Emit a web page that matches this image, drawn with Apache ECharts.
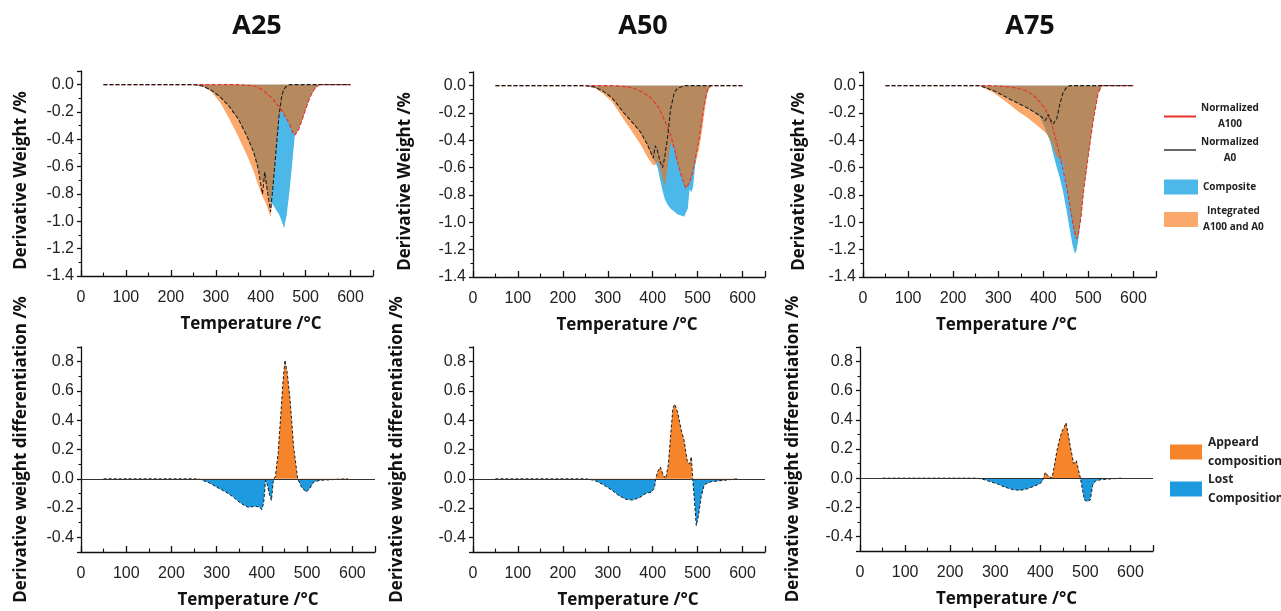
<!DOCTYPE html>
<html>
<head>
<meta charset="utf-8">
<title>DTG comparison A25 / A50 / A75</title>
<script src="https://cdn.jsdelivr.net/npm/echarts@6/dist/echarts.min.js"></script>
<style>
  html, body { margin: 0; padding: 0; background: #fff; }
  #main { width: 1281px; height: 611px; }
</style>
</head>
<body>
<div id="main"></div>
<script>
// ---- top row: derivative weight (%/°C) vs temperature ----
var a25Temp       = [50, 150, 250, 270, 290, 310, 330, 350, 370, 385, 395, 404, 409, 415, 422, 428, 435, 441, 447, 452, 458, 464, 470, 476, 484, 492, 500, 510, 520, 530, 600];
var a25A100       = [0, 0, 0, 0, 0, 0, 0, 0, -0.005, -0.01, -0.02, -0.04, -0.05, -0.07, -0.09, -0.11, -0.14, -0.16, -0.19, -0.22, -0.25, -0.29, -0.34, -0.37, -0.33, -0.26, -0.18, -0.09, -0.03, 0, 0];
var a25A0         = [0, 0, 0, -0.01, -0.04, -0.09, -0.16, -0.25, -0.38, -0.50, -0.62, -0.80, -0.64, -0.78, -0.93, -0.72, -0.45, -0.22, -0.08, -0.03, -0.01, 0, 0, 0, 0, 0, 0, 0, 0, 0, 0];
var a25Composite  = [0, 0, 0, -0.01, -0.04, -0.09, -0.16, -0.25, -0.38, -0.50, -0.62, -0.72, -0.70, -0.78, -0.86, -0.88, -0.92, -0.95, -1.0, -1.05, -0.95, -0.78, -0.58, -0.37, -0.33, -0.26, -0.18, -0.09, -0.03, 0, 0];
var a25Integrated = [0, 0, 0, -0.01, -0.05, -0.13, -0.25, -0.38, -0.52, -0.64, -0.74, -0.82, -0.85, -0.90, -0.97, -0.72, -0.45, -0.22, -0.19, -0.22, -0.25, -0.29, -0.34, -0.37, -0.33, -0.26, -0.18, -0.09, -0.03, 0, 0];
var a25Overlap    = [0, 0, 0, -0.01, -0.04, -0.09, -0.16, -0.25, -0.38, -0.50, -0.62, -0.72, -0.70, -0.78, -0.86, -0.72, -0.45, -0.22, -0.19, -0.22, -0.25, -0.29, -0.34, -0.37, -0.33, -0.26, -0.18, -0.09, -0.03, 0, 0];

var a50Temp       = [50, 150, 250, 270, 290, 310, 336, 355, 373, 388, 396, 401, 406, 411, 416, 422, 427, 433, 440, 448, 455, 463, 470, 474, 478, 482, 486, 490, 497, 504, 511, 516, 522, 530, 600];
var a50A100       = [0, 0, 0, 0, 0, 0, -0.005, -0.015, -0.04, -0.07, -0.09, -0.11, -0.13, -0.15, -0.18, -0.22, -0.26, -0.31, -0.36, -0.46, -0.56, -0.65, -0.72, -0.75, -0.74, -0.71, -0.67, -0.61, -0.5, -0.38, -0.22, -0.12, -0.03, 0, 0];
var a50A0         = [0, 0, 0, -0.01, -0.04, -0.09, -0.2, -0.27, -0.34, -0.43, -0.49, -0.53, -0.44, -0.48, -0.55, -0.6, -0.52, -0.38, -0.17, -0.05, -0.02, -0.01, 0, 0, 0, 0, 0, 0, 0, 0, 0, 0, 0, 0, 0];
var a50Composite  = [0, 0, 0, -0.01, -0.04, -0.09, -0.2, -0.27, -0.34, -0.43, -0.49, -0.53, -0.56, -0.6, -0.68, -0.77, -0.83, -0.87, -0.9, -0.92, -0.94, -0.95, -0.96, -0.95, -0.9, -0.76, -0.78, -0.74, -0.5, -0.38, -0.22, -0.12, -0.03, 0, 0];
var a50Integrated = [0, 0, 0, -0.015, -0.06, -0.12, -0.25, -0.34, -0.43, -0.52, -0.56, -0.58, -0.58, -0.56, -0.6, -0.68, -0.74, -0.6, -0.42, -0.46, -0.56, -0.65, -0.72, -0.75, -0.74, -0.71, -0.67, -0.63, -0.55, -0.45, -0.3, -0.17, -0.05, 0, 0];
var a50Overlap    = [0, 0, 0, -0.01, -0.04, -0.09, -0.2, -0.27, -0.34, -0.43, -0.49, -0.53, -0.56, -0.56, -0.6, -0.68, -0.74, -0.6, -0.42, -0.46, -0.56, -0.65, -0.72, -0.75, -0.74, -0.71, -0.67, -0.61, -0.5, -0.38, -0.22, -0.12, -0.03, 0, 0];

var a75Temp       = [50, 150, 259, 289, 310, 326, 345, 363, 378, 393, 400, 404, 407, 411, 416, 422, 426, 430, 437, 444, 452, 459, 465, 470, 474, 478, 484, 489, 497, 504, 511, 516, 522, 530, 600];
var a75A100       = [0, 0, 0, 0, -0.005, -0.01, -0.02, -0.04, -0.07, -0.12, -0.15, -0.17, -0.19, -0.22, -0.26, -0.32, -0.37, -0.42, -0.52, -0.62, -0.74, -0.88, -1.0, -1.08, -1.12, -1.08, -0.95, -0.78, -0.58, -0.41, -0.25, -0.16, -0.05, 0, 0];
var a75A0         = [0, 0, 0, -0.036, -0.07, -0.1, -0.13, -0.16, -0.19, -0.22, -0.24, -0.255, -0.24, -0.21, -0.25, -0.28, -0.29, -0.24, -0.13, -0.05, -0.01, 0, 0, 0, 0, 0, 0, 0, 0, 0, 0, 0, 0, 0, 0];
var a75Composite  = [0, 0, 0, -0.036, -0.07, -0.1, -0.13, -0.16, -0.19, -0.23, -0.28, -0.31, -0.34, -0.37, -0.42, -0.5, -0.55, -0.6, -0.68, -0.78, -0.92, -1.06, -1.17, -1.23, -1.2, -1.12, -0.96, -0.78, -0.58, -0.41, -0.25, -0.16, -0.05, 0, 0];
var a75Integrated = [0, 0, 0, -0.05, -0.1, -0.14, -0.19, -0.23, -0.27, -0.31, -0.33, -0.34, -0.35, -0.37, -0.4, -0.45, -0.49, -0.52, -0.535, -0.56, -0.72, -0.86, -0.99, -1.08, -1.12, -1.08, -0.95, -0.78, -0.58, -0.41, -0.25, -0.16, -0.05, 0, 0];
var a75Overlap    = [0, 0, 0, -0.036, -0.07, -0.1, -0.13, -0.16, -0.19, -0.23, -0.28, -0.31, -0.34, -0.37, -0.4, -0.45, -0.49, -0.52, -0.535, -0.56, -0.72, -0.86, -0.99, -1.08, -1.12, -1.08, -0.95, -0.78, -0.58, -0.41, -0.25, -0.16, -0.05, 0, 0];

// ---- bottom row: composite minus integrated ----
var diffA25Temp = [50, 250, 265, 285, 300, 320, 337, 350, 360, 370, 381, 392, 400, 404, 408, 412, 416, 421, 425, 430, 436, 442, 447, 451, 456, 462, 470, 479, 488, 498, 505, 515, 530, 590];
var diffA25     = [0, 0, -0.005, -0.03, -0.057, -0.09, -0.125, -0.16, -0.18, -0.195, -0.19, -0.19, -0.21, -0.16, -0.01, -0.04, -0.1, -0.148, -0.02, 0.02, 0.18, 0.45, 0.68, 0.81, 0.72, 0.55, 0.22, 0, -0.06, -0.09, -0.07, -0.02, -0.01, 0];
var diffA50Temp = [50, 250, 270, 290, 310, 325, 340, 355, 370, 385, 398, 404, 407, 411, 417, 423, 429, 435, 440, 445, 449, 456, 463, 470, 477, 482, 486, 489, 493, 497, 502, 508, 515, 530, 560, 590];
var diffA50     = [0, 0, -0.01, -0.04, -0.08, -0.115, -0.14, -0.145, -0.13, -0.1, -0.09, -0.06, 0, 0.05, 0.08, 0.03, 0, 0.1, 0.3, 0.48, 0.51, 0.45, 0.34, 0.26, 0.12, 0.1, 0.15, 0, -0.15, -0.32, -0.25, -0.12, -0.04, -0.02, -0.01, 0];
var diffA75Temp = [50, 260, 275, 290, 305, 320, 340, 356, 370, 385, 398, 404, 407, 411, 416, 421, 426, 432, 437, 443, 448, 453, 457, 462, 467, 474, 480, 485, 489, 493, 498, 504, 511, 516, 522, 535, 580];
var diffA75     = [0, 0, -0.01, -0.025, -0.04, -0.06, -0.08, -0.083, -0.075, -0.057, -0.04, -0.025, 0, 0.04, 0.02, 0.01, 0, 0.1, 0.19, 0.27, 0.32, 0.35, 0.38, 0.3, 0.21, 0.1, 0.12, 0.05, 0, -0.07, -0.15, -0.16, -0.15, -0.05, -0.02, -0.01, 0];

var sampleNames = ['A25', 'A50', 'A75'];

var BLUE = '#4cb8ea', ORANGE = '#fba86c', BROWN = '#b7895f', RED = '#e5322b', DARK = '#1e1e1e';
var APPEAR = '#f5842b', LOST = '#1e9be0';
var NAME_FONT = 'Open Sans';

function pairs(xs, ys) {
  return xs.map(function (x, i) { return [x, ys[i]]; });
}

var topPanels = [
  {temp: a25Temp, a100: a25A100, a0: a25A0, comp: a25Composite, integ: a25Integrated, overlap: a25Overlap},
  {temp: a50Temp, a100: a50A100, a0: a50A0, comp: a50Composite, integ: a50Integrated, overlap: a50Overlap},
  {temp: a75Temp, a100: a75A100, a0: a75A0, comp: a75Composite, integ: a75Integrated, overlap: a75Overlap}
];
var bottomPanels = [
  {temp: diffA25Temp, diff: diffA25},
  {temp: diffA50Temp, diff: diffA50},
  {temp: diffA75Temp, diff: diffA75}
];

var grids = [
  {left: 81, top: 71, width: 292, height: 205},
  {left: 473, top: 72, width: 292, height: 205},
  {left: 863, top: 72, width: 293, height: 205},
  {left: 81, top: 347, width: 294, height: 205},
  {left: 473, top: 347, width: 292, height: 205},
  {left: 860, top: 347, width: 293, height: 204}
];
grids.forEach(function (g) { g.containLabel = false; g.outerBoundsMode = 'none'; });

var axisLineStyle = {color: '#111', width: 1.3};
var nameStyle = function (pad) {
  return {fontFamily: NAME_FONT, fontWeight: 'bold', fontSize: 17, color: '#111', padding: pad};
};
var tickLabel = {fontFamily: 'Liberation Sans', fontSize: 16, color: '#222'};

// x name shift (px) and y name gap per panel
var xShift = [24, 8, -3, 20, 9, 0];
var yGap = [51, 59, 55, 51, 67, 58];

var xAxes = grids.map(function (g, i) {
  return {
    type: 'value', gridIndex: i, min: 0, max: 650, interval: 100,
    name: 'Temperature /°C', nameLocation: 'middle', nameGap: 40, nameMoveOverlap: false,
    nameTextStyle: nameStyle(xShift[i] >= 0 ? [0, 0, 0, xShift[i] * 2] : [0, -xShift[i] * 2, 0, 0]),
    axisLine: {onZero: false, lineStyle: axisLineStyle},
    axisTick: {inside: true, length: 6, lineStyle: axisLineStyle},
    minorTick: {show: true, splitNumber: 2, length: 3.5, lineStyle: {color: '#111', width: 1.1}},
    splitLine: {show: false},
    axisLabel: Object.assign({margin: 14, showMaxLabel: false}, tickLabel)
  };
});

var yAxes = grids.map(function (g, i) {
  var top = i < 3;
  var ax = {
    type: 'value', gridIndex: i,
    name: top ? 'Derivative Weight /%' : 'Derivative weight differentiation /%',
    nameLocation: 'middle', nameGap: yGap[i], nameMoveOverlap: false,
    nameTextStyle: nameStyle(top ? [0, 14, 0, 0] : [0, 0, 0, 0]),
    axisLine: {show: true, onZero: false, lineStyle: axisLineStyle},
    axisTick: {inside: false, length: 4, lineStyle: axisLineStyle},
    minorTick: {show: true, splitNumber: 2, length: 2.5, lineStyle: {color: '#111', width: 1.1}},
    splitLine: {show: false},
    axisLabel: Object.assign({
      margin: 7, showMaxLabel: false,
      formatter: function (v) { return v.toFixed(1); }
    }, tickLabel)
  };
  if (top) {
    ax.min = -1.4; ax.max = 0.1; ax.interval = 0.2;
  } else {
    ax.min = -0.5; ax.max = 0.9; ax.splitNumber = 7; ax.axisLabel.showMinLabel = false;
  }
  return ax;
});

var series = [];
topPanels.forEach(function (p, i) {
  var base = {type: 'line', xAxisIndex: i, yAxisIndex: i, symbol: 'none', showSymbol: false, silent: true};
  series.push(Object.assign({}, base, {
    name: 'Integrated A100 and A0', color: ORANGE, data: pairs(p.temp, p.integ),
    lineStyle: {width: 0}, areaStyle: {color: ORANGE, opacity: 1}
  }));
  series.push(Object.assign({}, base, {
    name: 'Composite', color: BLUE, data: pairs(p.temp, p.comp),
    lineStyle: {width: 0}, areaStyle: {color: BLUE, opacity: 1}
  }));
  series.push(Object.assign({}, base, {
    name: 'overlap', color: BROWN, data: pairs(p.temp, p.overlap),
    lineStyle: {width: 0}, areaStyle: {color: BROWN, opacity: 1}
  }));
  series.push(Object.assign({}, base, {
    name: 'Normalized A100', color: RED, data: pairs(p.temp, p.a100),
    lineStyle: {color: RED, width: 1.1, type: [4, 2]}
  }));
  series.push(Object.assign({}, base, {
    name: 'Normalized A0', color: DARK, data: pairs(p.temp, p.a0),
    lineStyle: {color: DARK, width: 1.1, type: [4, 2]}
  }));
});

var diffSeriesIdx = [];
bottomPanels.forEach(function (p, i) {
  diffSeriesIdx.push(series.length);
  series.push({
    type: 'line', name: 'difference ' + sampleNames[i], xAxisIndex: i + 3, yAxisIndex: i + 3,
    symbol: 'none', showSymbol: false, silent: true,
    data: pairs(p.temp, p.diff),
    lineStyle: {color: DARK, width: 1, type: [3, 2]},
    areaStyle: {opacity: 1},
    markLine: {
      silent: true, symbol: ['none', 'none'], label: {show: false},
      lineStyle: {color: '#333', width: 1, type: 'solid'},
      data: [{yAxis: 0}]
    }
  });
});

var legendText = {
  'Normalized A100': ['Normalized', 'A100'],
  'Normalized A0': ['Normalized', 'A0'],
  'Composite': ['Composite'],
  'Integrated A100 and A0': ['Integrated', 'A100 and A0']
};
function legendBox(name, top, w, h, iconColor) {
  var item = {name: name};
  if (iconColor) item.itemStyle = {color: iconColor};
  return {
    data: [item], orient: 'vertical', left: 1164, top: top, padding: 0,
    itemWidth: w, itemHeight: h, icon: 'rect', selectedMode: false,
    formatter: function (n) { return '{c|' + legendText[n].join('}\n{c|') + '}'; },
    textStyle: {
      rich: {c: {align: 'center', fontFamily: NAME_FONT, fontWeight: 'bold', fontSize: 10, lineHeight: 16, color: '#222'}}
    }
  };
}

var option = {
  animation: false,
  backgroundColor: '#fff',
  title: sampleNames.map(function (t, i) {
    return {
      text: t, left: [257, 643, 1030][i], top: 13, padding: 0,
      textAlign: 'center', textVerticalAlign: 'top',
      textStyle: {fontFamily: NAME_FONT, fontWeight: 'bold', fontSize: 27, color: '#111'}
    };
  }),
  legend: [
    legendBox('Normalized A100', 103.5, 32, 2),
    legendBox('Normalized A0', 137, 32, 2, '#666'),
    legendBox('Composite', 179.5, 34, 15),
    legendBox('Integrated A100 and A0', 206.5, 34, 15)
  ],
  visualMap: [{
    type: 'piecewise', seriesIndex: diffSeriesIdx, dimension: 1,
    pieces: [
      {gte: 0, lte: 1, label: 'Appeard\ncomposition', color: APPEAR},
      {gte: -1, lt: 0, label: 'Lost\nComposition', color: LOST}
    ],
    orient: 'vertical', left: 1170, top: 433, padding: 0,
    itemWidth: 32, itemHeight: 15, itemGap: -1, textGap: 6, itemSymbol: 'rect',
    align: 'left', selectedMode: false,
    textStyle: {fontFamily: NAME_FONT, fontWeight: 'bold', fontSize: 12, lineHeight: 19, color: '#222'}
  }],
  grid: grids,
  xAxis: xAxes,
  yAxis: yAxes,
  series: series
};

var chart = echarts.init(document.getElementById('main'));
chart.setOption(option);
</script>
</body>
</html>
